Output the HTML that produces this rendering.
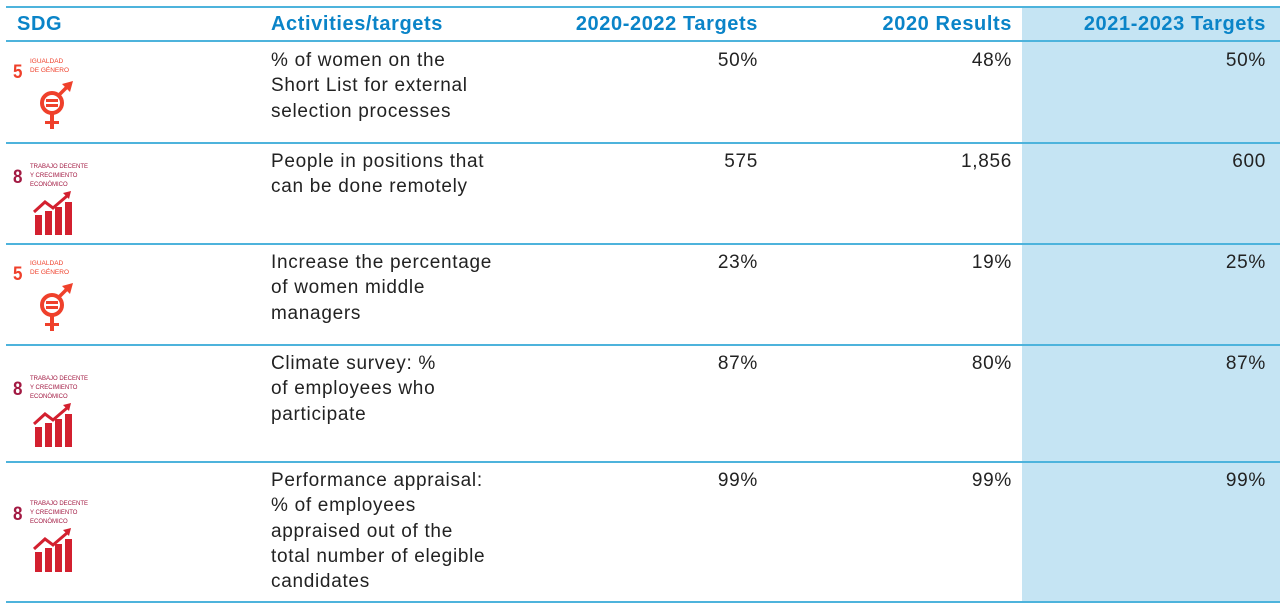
<!DOCTYPE html>
<html><head><meta charset="utf-8"><style>
body{margin:0;width:1280px;height:607px;background:#fff;position:relative;overflow:hidden;font-family:"Liberation Sans",sans-serif;}
.hl{position:absolute;left:1022px;top:6px;width:258px;height:597px;background:#c5e4f3;}
.ln{position:absolute;left:6px;width:1274px;background:#4db3dc;}
.h{position:absolute;top:13px;font-weight:bold;color:#0a84c8;font-size:20px;letter-spacing:0.6px;}
.t{position:absolute;font-size:19px;color:#222;line-height:25.3px;letter-spacing:0.7px;}
.r{text-align:right;}
svg{position:absolute;}
</style></head><body>
<div class="hl"></div>
<div class="ln" style="top:6px;height:2px"></div>
<div class="ln" style="top:40px;height:2px"></div>
<div class="ln" style="top:142px;height:2px"></div>
<div class="ln" style="top:243px;height:2px"></div>
<div class="ln" style="top:344px;height:2px"></div>
<div class="ln" style="top:461px;height:2px"></div>
<div class="ln" style="top:601px;height:2px"></div>
<div class="h" style="left:17px">SDG</div>
<div class="h" style="left:271px">Activities/targets</div>
<div class="h r" style="right:522px">2020-2022 Targets</div>
<div class="h r" style="right:268px">2020 Results</div>
<div class="h r" style="right:14px">2021-2023 Targets</div>

<div class="t" style="left:271px;top:48px">% of women on the<br>Short List for external<br>selection processes</div>
<div class="t" style="left:271px;top:149px">People in positions that<br>can be done remotely</div>
<div class="t" style="left:271px;top:250px">Increase the percentage<br>of women middle<br>managers</div>
<div class="t" style="left:271px;top:351px">Climate survey: %<br>of employees who<br>participate</div>
<div class="t" style="left:271px;top:468px">Performance appraisal:<br>% of employees<br>appraised out of the<br>total number of elegible<br>candidates</div>

<div class="t r" style="right:522px;top:48px">50%</div><div class="t r" style="right:268px;top:48px">48%</div><div class="t r" style="right:14px;top:48px">50%</div>
<div class="t r" style="right:522px;top:149px">575</div><div class="t r" style="right:268px;top:149px">1,856</div><div class="t r" style="right:14px;top:149px">600</div>
<div class="t r" style="right:522px;top:250px">23%</div><div class="t r" style="right:268px;top:250px">19%</div><div class="t r" style="right:14px;top:250px">25%</div>
<div class="t r" style="right:522px;top:351px">87%</div><div class="t r" style="right:268px;top:351px">80%</div><div class="t r" style="right:14px;top:351px">87%</div>
<div class="t r" style="right:522px;top:468px">99%</div><div class="t r" style="right:268px;top:468px">99%</div><div class="t r" style="right:14px;top:468px">99%</div>

<svg width="80" height="80" style="left:10px;top:55px"><text x="3" y="20" font-size="17" font-weight="bold" fill="#ef402b" transform="scale(1,1.15)" font-family="Liberation Sans Narrow,Liberation Sans">5</text><text x="20" y="8" font-size="6.5" fill="#ef402b">IGUALDAD</text><text x="20" y="17" font-size="6.5" fill="#ef402b">DE GÉNERO</text>
<circle cx="42" cy="48" r="10" fill="none" stroke="#ef402b" stroke-width="4"/><rect x="36" y="44" width="12" height="3" fill="#ef402b"/><rect x="36" y="49" width="12" height="3" fill="#ef402b"/><rect x="40" y="58" width="4" height="16" fill="#ef402b"/><rect x="35" y="66" width="14" height="3" fill="#ef402b"/><line x1="49" y1="40" x2="60" y2="29" stroke="#ef402b" stroke-width="3.5"/><polygon points="52,29 63,26 60,37" fill="#ef402b"/></svg>
<svg width="80" height="80" style="left:10px;top:257px"><text x="3" y="20" font-size="17" font-weight="bold" fill="#ef402b" transform="scale(1,1.15)" font-family="Liberation Sans Narrow,Liberation Sans">5</text><text x="20" y="8" font-size="6.5" fill="#ef402b">IGUALDAD</text><text x="20" y="17" font-size="6.5" fill="#ef402b">DE GÉNERO</text>
<circle cx="42" cy="48" r="10" fill="none" stroke="#ef402b" stroke-width="4"/><rect x="36" y="44" width="12" height="3" fill="#ef402b"/><rect x="36" y="49" width="12" height="3" fill="#ef402b"/><rect x="40" y="58" width="4" height="16" fill="#ef402b"/><rect x="35" y="66" width="14" height="3" fill="#ef402b"/><line x1="49" y1="40" x2="60" y2="29" stroke="#ef402b" stroke-width="3.5"/><polygon points="52,29 63,26 60,37" fill="#ef402b"/></svg>
<svg width="90" height="90" style="left:10px;top:160px"><text x="3" y="20" font-size="17" font-weight="bold" fill="#a21942" transform="scale(1,1.15)" font-family="Liberation Sans Narrow,Liberation Sans">8</text><text x="20" y="8" font-size="6" fill="#a21942">TRABAJO DECENTE</text><text x="20" y="17" font-size="6" fill="#a21942">Y CRECIMIENTO</text><text x="20" y="26" font-size="6" fill="#a21942">ECONÓMICO</text>
<rect x="25" y="55" width="7" height="20" fill="#d3202f"/><rect x="35" y="51" width="7" height="24" fill="#d3202f"/><rect x="45" y="47" width="7" height="28" fill="#d3202f"/><rect x="55" y="42" width="7" height="33" fill="#d3202f"/><polyline points="24,52 35,42 43,48 57,36" fill="none" stroke="#d3202f" stroke-width="3"/><polygon points="53,33 61,31 59,39" fill="#d3202f"/></svg>
<svg width="90" height="90" style="left:10px;top:372px"><text x="3" y="20" font-size="17" font-weight="bold" fill="#a21942" transform="scale(1,1.15)" font-family="Liberation Sans Narrow,Liberation Sans">8</text><text x="20" y="8" font-size="6" fill="#a21942">TRABAJO DECENTE</text><text x="20" y="17" font-size="6" fill="#a21942">Y CRECIMIENTO</text><text x="20" y="26" font-size="6" fill="#a21942">ECONÓMICO</text>
<rect x="25" y="55" width="7" height="20" fill="#d3202f"/><rect x="35" y="51" width="7" height="24" fill="#d3202f"/><rect x="45" y="47" width="7" height="28" fill="#d3202f"/><rect x="55" y="42" width="7" height="33" fill="#d3202f"/><polyline points="24,52 35,42 43,48 57,36" fill="none" stroke="#d3202f" stroke-width="3"/><polygon points="53,33 61,31 59,39" fill="#d3202f"/></svg>
<svg width="90" height="90" style="left:10px;top:497px"><text x="3" y="20" font-size="17" font-weight="bold" fill="#a21942" transform="scale(1,1.15)" font-family="Liberation Sans Narrow,Liberation Sans">8</text><text x="20" y="8" font-size="6" fill="#a21942">TRABAJO DECENTE</text><text x="20" y="17" font-size="6" fill="#a21942">Y CRECIMIENTO</text><text x="20" y="26" font-size="6" fill="#a21942">ECONÓMICO</text>
<rect x="25" y="55" width="7" height="20" fill="#d3202f"/><rect x="35" y="51" width="7" height="24" fill="#d3202f"/><rect x="45" y="47" width="7" height="28" fill="#d3202f"/><rect x="55" y="42" width="7" height="33" fill="#d3202f"/><polyline points="24,52 35,42 43,48 57,36" fill="none" stroke="#d3202f" stroke-width="3"/><polygon points="53,33 61,31 59,39" fill="#d3202f"/></svg>
</body></html>
